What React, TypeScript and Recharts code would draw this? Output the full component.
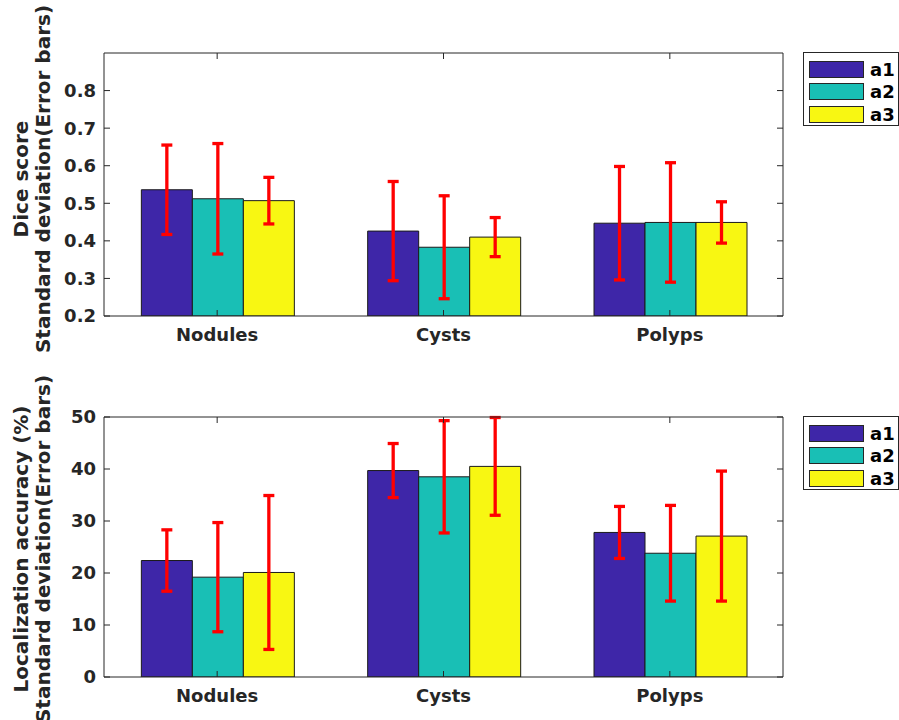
import React from 'react';
import { BarChart, Bar, XAxis, YAxis, ErrorBar, Legend } from 'recharts';

const categories = ['Nodules', 'Cysts', 'Polyps'];
const seriesNames = ['a1', 'a2', 'a3'];
const seriesColors = ['#3e26a8', '#19bfb5', '#f8f712'];

// Dice score: means and standard deviations per series (Nodules, Cysts, Polyps)
const diceA1 = [0.536, 0.426, 0.447];
const diceA2 = [0.512, 0.383, 0.449];
const diceA3 = [0.507, 0.41, 0.449];
const diceA1Sd = [0.119, 0.132, 0.151];
const diceA2Sd = [0.147, 0.137, 0.159];
const diceA3Sd = [0.062, 0.052, 0.055];
const diceTicks = [0.2, 0.3, 0.4, 0.5, 0.6, 0.7, 0.8];

// Localization accuracy (%)
const locA1 = [22.4, 39.7, 27.8];
const locA2 = [19.2, 38.5, 23.8];
const locA3 = [20.1, 40.5, 27.1];
const locA1Sd = [5.9, 5.2, 5.0];
const locA2Sd = [10.5, 10.8, 9.2];
const locA3Sd = [14.8, 9.4, 12.5];
const locTicks = [0, 10, 20, 30, 40, 50];

const buildRows = (means: number[][], sds: number[][]) =>
  categories.map((name, i) => {
    const row: Record<string, string | number> = { name };
    seriesNames.forEach((s, j) => {
      row[s] = means[j][i];
      row[`${s}Sd`] = sds[j][i];
    });
    return row;
  });

const diceData = buildRows([diceA1, diceA2, diceA3], [diceA1Sd, diceA2Sd, diceA3Sd]);
const locData = buildRows([locA1, locA2, locA3], [locA1Sd, locA2Sd, locA3Sd]);

const FONT = '"DejaVu Sans", sans-serif';
const AXIS = '#262626';

const tickStyle = { fill: AXIS, fontSize: 18, fontWeight: 'bold', fontFamily: FONT };

interface TitleProps {
  lines: string[];
  cy: number;
}

// two-line rotated y title, like matlab's ylabel({...})
const AxisTitle = ({ lines, cy }: TitleProps) => (
  <g>
    {lines.map((line, i) => {
      const x = 28 + i * 22;
      return (
        <text
          key={line}
          x={x}
          y={cy}
          transform={`rotate(-90 ${x} ${cy})`}
          textAnchor="middle"
          fill={AXIS}
          fontSize={20}
          fontWeight="bold"
          fontFamily={FONT}
        >
          {line}
        </text>
      );
    })}
  </g>
);

const BoxLegend = (props: any) => {
  const payload = props.payload || [];
  return (
    <div
      style={{
        width: 96,
        height: 74,
        border: `1px solid ${AXIS}`,
        background: '#fff',
        boxSizing: 'border-box',
        padding: '5px 0 0 5px',
      }}
    >
      {payload.map((p: any) => (
        <div key={p.value} style={{ display: 'flex', alignItems: 'center', height: 22.5 }}>
          <span
            style={{
              display: 'inline-block',
              width: 55,
              height: 17,
              background: p.color,
              border: `1px solid ${AXIS}`,
              boxSizing: 'border-box',
            }}
          />
          <span style={{ marginLeft: 6, fontFamily: FONT, fontWeight: 'bold', fontSize: 18, color: '#000' }}>
            {p.value}
          </span>
        </div>
      ))}
    </div>
  );
};

interface PanelProps {
  data: Record<string, string | number>[];
  ticks: number[];
  domain: [number, number];
  title: string[];
  titleCy: number;
  top: number;
  bottom: number;
}

const Panel = ({ data, ticks, domain, title, titleCy, top, bottom }: PanelProps) => (
  <BarChart
    width={899}
    height={360}
    data={data}
    margin={{ top, right: 115, bottom, left: 44 }}
    barCategoryGap="16.5%"
    barGap={0}
  >
    <XAxis
      dataKey="name"
      stroke={AXIS}
      tickSize={-6}
      tickMargin={18}
      tick={tickStyle}
      height={30}
    />
    <XAxis
      xAxisId="top"
      orientation="top"
      dataKey="name"
      stroke={AXIS}
      tickSize={-6}
      tickFormatter={() => ''}
      height={1}
    />
    <YAxis
      domain={domain}
      ticks={ticks}
      allowDataOverflow
      stroke={AXIS}
      tickSize={-6}
      tickMargin={14}
      tick={tickStyle}
      width={60}
      label={<AxisTitle lines={title} cy={titleCy} />}
    />
    <YAxis
      yAxisId="right"
      orientation="right"
      domain={domain}
      ticks={ticks}
      allowDataOverflow
      stroke={AXIS}
      tickSize={-6}
      tickFormatter={() => ''}
      width={1}
    />
    <Legend
      layout="vertical"
      align="center"
      verticalAlign="middle"
      wrapperStyle={{ left: 803, top: top, width: 96 }}
      content={<BoxLegend />}
    />
    {seriesNames.map((s, i) => (
      <Bar key={s} dataKey={s} name={s} fill={seriesColors[i]} stroke="#1a1a1a" strokeWidth={1} isAnimationActive={false}>
        <ErrorBar dataKey={`${s}Sd`} width={5.5} strokeWidth={3.3} stroke="#ff0000" isAnimationActive={false} />
      </Bar>
    ))}
  </BarChart>
);

export default function App() {
  return (
    <div style={{ position: 'absolute', left: 0, top: 0, width: 899, height: 720, background: '#fff', overflow: 'hidden' }}>
      <div style={{ position: 'absolute', left: 0, top: 0 }}>
        <Panel
          data={diceData}
          ticks={diceTicks}
          domain={[0.2, 0.9]}
          title={['Dice score', 'Standard deviation(Error bars)']}
          titleCy={179}
          top={52}
          bottom={14}
        />
      </div>
      <div style={{ position: 'absolute', left: 0, top: 360 }}>
        <Panel
          data={locData}
          ticks={locTicks}
          domain={[0, 50]}
          title={['Localization accuracy (%)', 'Standard deviation(Error bars)']}
          titleCy={189}
          top={56}
          bottom={13}
        />
      </div>
    </div>
  );
}
